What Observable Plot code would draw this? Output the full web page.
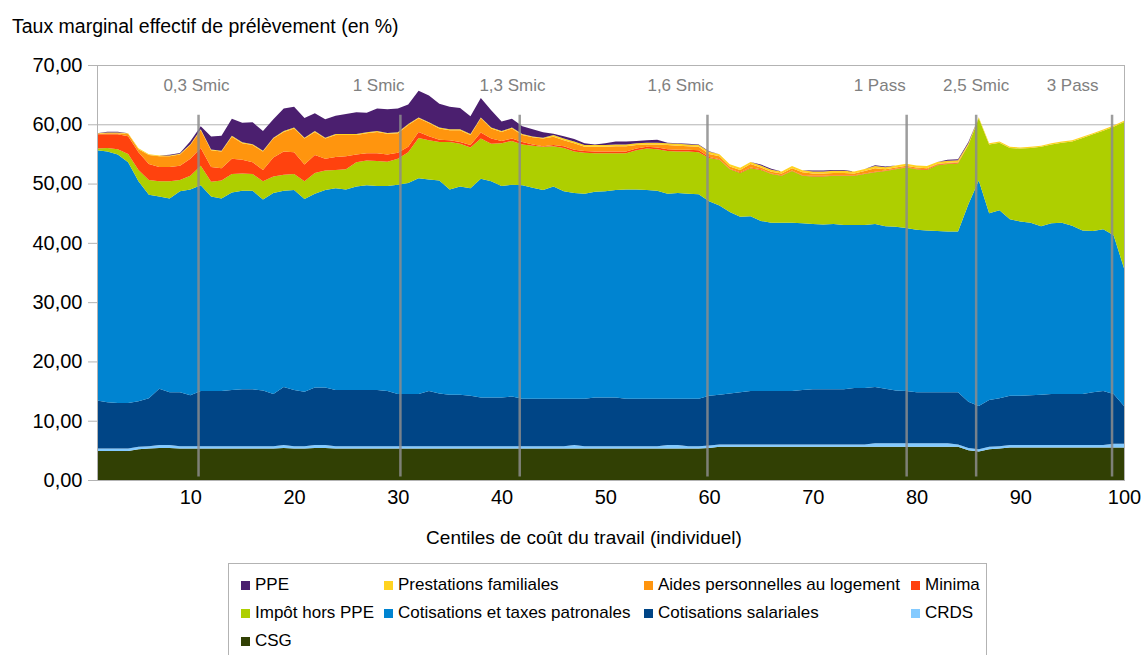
<!DOCTYPE html>
<html><head><meta charset="utf-8">
<script src="https://cdn.jsdelivr.net/npm/d3@7"></script>
<script src="https://cdn.jsdelivr.net/npm/@observablehq/plot@0.6"></script>
<style>
body{margin:0;background:#fff;font-family:"Liberation Sans",Arial,sans-serif;}
#wrap{position:relative;width:1141px;height:655px;overflow:hidden;}
#title{position:absolute;left:12px;top:15px;font-size:19.5px;color:#000;white-space:nowrap;}
#chart{position:absolute;left:0;top:0;}
#legend{position:absolute;left:228px;top:563px;width:759px;height:110px;border:1px solid #b3b3b3;box-sizing:border-box;background:#fff;}
.item{position:absolute;font-size:17px;white-space:nowrap;display:flex;align-items:center;color:#000;}
.sw{width:9px;height:9px;margin-right:5px;flex:none;}
</style></head>
<body><div id="wrap"><div id="chart"></div><div id="title">Taux marginal effectif de prélèvement (en %)</div><div id="legend"></div></div>
<script>
// ---- Data (in % points) ----
const centiles = d3.range(1, 101);

const csg = [
4.9,4.9,4.9,4.9,5.2,5.3,5.4,5.4,5.3,5.3,
5.3,5.3,5.3,5.3,5.3,5.3,5.3,5.3,5.4,5.3,
5.3,5.4,5.4,5.3,5.3,5.3,5.3,5.3,5.3,5.3,
5.3,5.3,5.3,5.3,5.3,5.3,5.3,5.3,5.3,5.3,
5.3,5.3,5.3,5.3,5.3,5.3,5.3,5.3,5.3,5.3,
5.3,5.3,5.3,5.3,5.3,5.3,5.3,5.3,5.3,5.4,
5.6,5.6,5.6,5.6,5.6,5.6,5.6,5.6,5.6,5.6,
5.6,5.6,5.6,5.6,5.6,5.6,5.6,5.6,5.6,5.6,
5.6,5.6,5.6,5.6,5.0,4.8,5.2,5.3,5.5,5.5,
5.5,5.5,5.5,5.5,5.5,5.5,5.5,5.5,5.5,5.5];

const crds = [
0.4,0.4,0.4,0.4,0.4,0.4,0.5,0.5,0.4,0.4,
0.4,0.4,0.4,0.4,0.4,0.4,0.4,0.4,0.5,0.4,
0.4,0.5,0.5,0.4,0.4,0.4,0.4,0.4,0.4,0.4,
0.4,0.4,0.4,0.4,0.4,0.4,0.4,0.4,0.4,0.4,
0.4,0.4,0.4,0.4,0.4,0.4,0.6,0.4,0.4,0.4,
0.4,0.4,0.4,0.4,0.4,0.6,0.6,0.4,0.4,0.4,
0.4,0.4,0.4,0.4,0.4,0.4,0.4,0.4,0.4,0.4,
0.4,0.4,0.4,0.4,0.4,0.6,0.6,0.6,0.6,0.6,
0.6,0.6,0.6,0.4,0.4,0.4,0.4,0.4,0.4,0.4,
0.4,0.4,0.4,0.4,0.4,0.4,0.4,0.4,0.6,0.6];

const cotisSalariales = [
8.1,7.8,7.7,7.7,7.7,8.1,9.5,8.9,9.1,8.6,
9.3,9.3,9.3,9.5,9.6,9.6,9.4,8.8,9.8,9.5,
9.2,9.7,9.7,9.5,9.5,9.5,9.5,9.5,9.3,8.8,
8.8,8.8,9.3,8.9,8.7,8.7,8.5,8.2,8.2,8.2,
8.4,8.0,8.0,8.0,8.0,8.0,7.8,8.0,8.2,8.2,
8.2,8.0,8.0,8.0,8.0,7.8,7.8,8.0,8.0,8.4,
8.4,8.6,8.8,9.0,9.0,9.0,9.0,9.0,9.2,9.3,
9.3,9.3,9.3,9.5,9.5,9.5,9.2,8.9,8.8,8.6,
8.6,8.6,8.6,8.8,7.8,7.3,7.9,8.1,8.3,8.3,
8.4,8.5,8.6,8.6,8.6,8.6,8.9,9.1,8.4,6.4];

const cotisPatronales = [
42.2,42.3,41.9,40.6,37.1,34.3,32.4,32.7,33.9,34.7,
34.7,32.8,32.5,33.3,33.5,33.5,32.2,33.9,33.1,33.7,
32.5,32.7,33.3,34.0,33.8,34.3,34.5,34.4,34.6,35.3,
35.6,36.4,35.7,35.9,34.6,35.1,35.0,36.9,36.5,35.7,
35.7,36.0,35.6,35.2,35.8,35.0,34.7,34.6,34.7,34.8,
35.0,35.3,35.3,35.2,35.1,34.6,34.7,34.6,34.5,32.8,
31.9,30.6,29.6,29.5,28.7,28.4,28.4,28.4,28.1,27.9,
27.8,27.9,27.7,27.5,27.5,27.5,27.4,27.6,27.5,27.4,
27.3,27.2,27.1,27.1,33.3,38.0,31.5,31.7,29.8,29.4,
29.1,28.4,28.8,28.9,28.4,27.6,27.2,27.3,26.8,23.2];

const impotHorsPPE = [
0.3,0.6,0.9,1.4,1.9,2.5,2.6,2.9,1.9,2.3,
3.3,2.5,3.0,3.1,2.9,2.8,3.1,2.8,2.7,2.7,
3.0,3.5,3.3,3.1,3.4,4.1,4.2,4.2,4.1,4.4,
5.2,6.8,6.6,6.5,8.0,7.2,6.9,6.8,6.3,7.2,
7.4,6.9,7.1,7.3,6.8,7.3,7.0,6.9,6.5,6.4,
6.2,6.1,6.6,7.0,7.0,7.2,7.0,7.1,7.1,7.3,
7.7,7.2,7.4,8.1,8.6,8.2,7.9,8.7,8.0,8.0,
8.1,8.1,8.3,8.3,8.6,8.7,9.3,9.7,10.2,10.2,
10.2,11.1,11.4,11.5,10.0,10.5,11.6,11.4,12.0,12.3,
12.6,13.4,13.3,13.5,14.2,15.6,16.3,16.6,18.3,24.7];

const minima = [
2.4,2.3,2.5,3.0,3.0,2.7,2.4,2.4,2.4,2.9,
3.0,2.5,2.1,2.6,2.3,2.0,1.9,3.2,3.9,3.7,
2.8,3.0,2.0,2.2,2.2,1.3,1.2,1.3,1.2,1.0,
0.9,1.0,0.7,0.4,0.3,0.3,0.4,1.0,0.9,0.4,
0.4,0.4,0.2,0.1,0.2,0.3,0.3,0.3,0.3,0.3,
0.3,0.3,0.3,0.3,0.3,0.3,0.3,0.3,0.3,0.2,
0.1,0.1,0.1,0.1,0.1,0.1,0.1,0.1,0.1,0.1,
0.1,0.1,0.1,0.1,0.1,0.1,0.1,0.1,0.1,0.1,
0.1,0.1,0.1,0.1,0,0,0,0,0,0,
0,0,0,0,0,0,0,0,0,0];

const aidesLogement = [
0.1,0.2,0.2,0.4,0.5,1.5,1.8,1.8,1.9,2.3,
3.0,2.8,2.8,3.7,2.8,2.9,3.1,3.2,3.3,4.0,
4.4,3.9,3.4,3.7,3.6,3.3,3.4,3.6,3.5,3.3,
3.7,2.3,2.2,1.9,1.7,2.0,1.7,2.4,1.7,1.5,
1.7,1.2,1.2,1.3,1.4,1.0,1.1,0.7,0.8,0.8,
0.9,0.9,0.6,0.4,0.5,0.7,0.7,0.6,0.6,0.5,
0.5,0.4,0.4,0.6,0.3,0.3,0.3,0.4,0.5,0.4,
0.4,0.4,0.4,0.3,0.4,0.6,0.2,0.2,0.2,0.2,
0.2,0.1,0.1,0.1,0.1,0,0,0,0,0,
0,0,0,0,0,0,0,0,0,0];

const prestationsFamiliales = [
0.1,0.1,0.1,0.1,0.15,0.15,0.15,0.15,0.15,0.15,
0.15,0.15,0.15,0.15,0.15,0.15,0.15,0.15,0.15,0.15,
0.15,0.15,0.15,0.15,0.15,0.15,0.15,0.15,0.15,0.15,
0.15,0.15,0.15,0.15,0.15,0.15,0.15,0.15,0.15,0.15,
0.15,0.15,0.15,0.15,0.3,0.3,0.3,0.3,0.3,0.3,
0.3,0.3,0.3,0.3,0.3,0.3,0.3,0.3,0.3,0.35,
0.35,0.35,0.35,0.35,0.35,0.35,0.35,0.35,0.35,0.35,
0.35,0.35,0.35,0.35,0.35,0.35,0.35,0.35,0.35,0.35,
0.35,0.35,0.35,0.35,0.2,0.2,0.2,0.2,0.2,0.2,
0.2,0.2,0.2,0.2,0.2,0.2,0.2,0.2,0.2,0.2];

const ppe = [
0,0.15,0.15,0,0,0,0,0.1,0.1,0.5,
0.5,2.2,2.5,2.9,3.3,3.7,3.3,3.1,3.8,3.5,
3.3,3.0,3.1,3.1,3.4,3.7,3.3,3.8,4.0,4.0,
3.3,4.5,4.5,4.0,3.8,3.6,3.0,3.3,2.9,1.6,
1.5,1.3,1.2,0.9,0.2,0.4,0.4,0.3,0.1,0.3,
0.5,0.5,0.4,0.4,0.5,0.1,0.1,0.1,0.1,0.1,
0,0,0,0,0.15,0.15,0,0,0,0.15,
0.15,0.15,0.15,0,0,0.15,0.15,0,0,0,
0,0,0.15,0.15,0.2,0,0,0,0,0,
0,0,0,0,0,0,0,0,0,0];

// Series, bottom of the stack first
const seriesNames = ["CSG","CRDS","Cotisations salariales","Cotisations et taxes patronales","Impôt hors PPE","Minima","Aides personnelles au logement","Prestations familiales","PPE"];
const seriesValues = [csg, crds, cotisSalariales, cotisPatronales, impotHorsPPE, minima, aidesLogement, prestationsFamiliales, ppe];
const seriesColors = ["#314004","#83caff","#004586","#0084d1","#aecf00","#ff420e","#ff950e","#ffd320","#4b1f6f"];

// Legend order (as in the reference, row by row)
const legendOrder = ["PPE","Prestations familiales","Aides personnelles au logement","Minima","Impôt hors PPE","Cotisations et taxes patronales","Cotisations salariales","CRDS","CSG"];

// Reference thresholds (vertical lines) in centile units
const thresholdLabels = ["0,3 Smic","1 Smic","1,3 Smic","1,6 Smic","1 Pass","2,5 Smic","3 Pass"];
const thresholdCentiles = [10.74, 30.2, 41.7, 59.8, 79.0, 85.7, 98.8];
const thresholdLabelCentiles = [10.54, 28.1, 41.0, 57.2, 76.4, 85.7, 95.0];

const yTicks = [0,10,20,30,40,50,60,70];
const xTicks = [10,20,30,40,50,60,70,80,90,100];
const titleText = "Taux marginal effectif de prélèvement (en %)";
const xLabel = "Centiles de coût du travail (individuel)";

// ---- Build tables ----
const rows = [];
seriesNames.forEach((s, i) => centiles.forEach((c, j) => rows.push({centile: c, serie: s, value: seriesValues[i][j]})));
const thresholds = thresholdLabels.map((l, i) => ({label: l, line: thresholdCentiles[i], labelX: thresholdLabelCentiles[i]}));

const chart = Plot.plot({
  width: 1141, height: 560,
  marginTop: 65, marginBottom: 80, marginLeft: 97, marginRight: 17,
  style: {fontFamily: "'Liberation Sans', Arial, sans-serif", fontSize: "20px", color: "#000", background: "transparent"},
  x: {domain: [1, 100]},
  y: {domain: [0, 70]},
  color: {domain: seriesNames, range: seriesColors},
  marks: [
    Plot.gridY(yTicks, {stroke: "#b3b3b3", strokeOpacity: 1}),
    Plot.areaY(rows, {x: "centile", y: "value", z: "serie", fill: "serie", order: seriesNames, curve: "linear"}),
    Plot.ruleX(thresholds, {x: "line", y1: 0.6, y2: 61.6, stroke: "#8c8c8c", strokeWidth: 2.5, strokeOpacity: 0.85}),
    Plot.text(thresholds, {x: "labelX", y: 66.6, text: "label", fill: "#808080", fontSize: 17}),
    Plot.frame({stroke: "#b3b3b3"}),
    Plot.axisY({ticks: yTicks, tickFormat: d => d.toFixed(2).replace(".", ","), tickSize: 9, tickPadding: 6, stroke: "#b3b3b3", fill: "#000", label: null, fontSize: 20}),
    Plot.axisX({ticks: xTicks, tickSize: 0, tickPadding: 9, fill: "#000", label: null, fontSize: 20}),
    Plot.text([xLabel], {text: d => d, frameAnchor: "bottom", dy: 63, dx: -27, fontSize: 19, fill: "#000"})
  ]
});
document.getElementById("chart").appendChild(chart);
document.getElementById("title").textContent = titleText;

// ---- Legend ----
const colX = [12, 155, 415, 682];
const rowY = [21, 49, 77];
const legend = document.getElementById("legend");
legendOrder.forEach((name, k) => {
  const col = k % 4, row = Math.floor(k / 4);
  const it = document.createElement("div");
  it.className = "item";
  it.style.left = colX[col] + "px";
  it.style.top = (rowY[row] - 10) + "px";
  const sw = document.createElement("span");
  sw.className = "sw";
  sw.style.background = seriesColors[seriesNames.indexOf(name)];
  const tx = document.createElement("span");
  tx.textContent = name;
  it.appendChild(sw); it.appendChild(tx);
  legend.appendChild(it);
});
</script>
</body></html>
